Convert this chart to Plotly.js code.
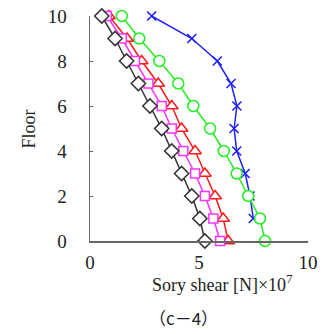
<!DOCTYPE html>
<html>
<head>
<meta charset="utf-8">
<script src="https://cdn.plot.ly/plotly-3.0.1.min.js"></script>
<style>html,body{margin:0;padding:0;background:#fff;}#chart{width:328px;height:334px;}</style>
</head>
<body>
<div id="chart"></div>
<script>
const floors = [0,1,2,3,4,5,6,7,8,9,10];
const blackDiamond = [5.27,5.04,4.67,4.20,3.75,3.29,2.75,2.22,1.68,1.15,0.54];
const magentaSquare = [5.97,5.66,5.27,4.82,4.28,3.75,3.29,2.68,2.06,1.46,0.77];
const redTriangle = [6.34,6.11,5.74,5.27,4.82,4.20,3.75,3.13,2.37,1.70,0.87];
const greenCircle = [8.03,7.80,7.26,6.73,6.14,5.51,4.74,4.05,3.18,2.26,1.46];
const blueCross = [null,7.49,7.34,7.12,6.73,6.61,6.74,6.47,5.84,4.67,2.83];
const xTicks = [0,5,10];
const yTicks = [0,2,4,6,8,10];

function tr(x, color, symbol, size, lw) {
  return {
    x: x, y: floors, type: 'scatter', mode: 'lines+markers', cliponaxis: false,
    connectgaps: false,
    line: {color: color, width: 1.5},
    marker: {symbol: symbol, size: size, color: symbol.indexOf('x') === 0 ? color : '#fff',
             line: {color: color, width: lw}},
    showlegend: false
  };
}
const data = [
  tr(blueCross, '#2020ff', 'x-thin', 9, 1.6),
  tr(greenCircle, '#22ee22', 'circle', 11, 1.5),
  tr(redTriangle, '#ff1a1a', 'triangle-up', 11, 1.5),
  tr(magentaSquare, '#ff33ff', 'square', 9, 1.5),
  tr(blackDiamond, '#333333', 'diamond', 11, 1.5)
];
const serif = 'Liberation Serif';
const layout = {
  width: 328, height: 334,
  margin: {l: 90, r: 20, t: 16, b: 93},
  paper_bgcolor: '#fff', plot_bgcolor: '#fff',
  font: {family: serif, size: 18, color: '#222'},
  xaxis: {
    range: [0, 10], tickvals: xTicks, ticktext: xTicks.map(String),
    showgrid: false, zeroline: false, showline: true, linecolor: '#666', linewidth: 1.5,
    ticks: 'inside', ticklen: 3, tickcolor: '#666',
    tickfont: {family: serif, size: 19, color: '#222'}, ticklabelstandoff: 4
  },
  yaxis: {
    range: [0, 10], tickvals: yTicks, ticktext: yTicks.map(String),
    showgrid: false, zeroline: false, showline: true, linecolor: '#666', linewidth: 1.5,
    ticks: 'inside', ticklen: 3, tickcolor: '#666',
    tickfont: {family: serif, size: 19, color: '#222'}, ticklabelstandoff: 18
  },
  annotations: [
    {text: 'Floor', xref: 'paper', yref: 'paper', x: -0.28, y: 0.5, xanchor: 'center', yanchor: 'middle',
     textangle: -90, showarrow: false, font: {family: serif, size: 18, color: '#222'}},
    {text: 'Sory shear [N]×10<sup>7</sup>', xref: 'paper', yref: 'paper', x: 0.605, y: -0.19,
     xanchor: 'center', yanchor: 'middle', showarrow: false, font: {family: serif, size: 18, color: '#222'}},
    {text: '（c－4）', xref: 'paper', yref: 'paper', x: 0.43, y: -0.34,
     xanchor: 'center', yanchor: 'middle', showarrow: false,
     font: {family: 'Noto Sans CJK JP', size: 17, color: '#222'}}
  ]
};
Plotly.newPlot('chart', data, layout, {displayModeBar: false, staticPlot: true});
</script>
</body>
</html>
